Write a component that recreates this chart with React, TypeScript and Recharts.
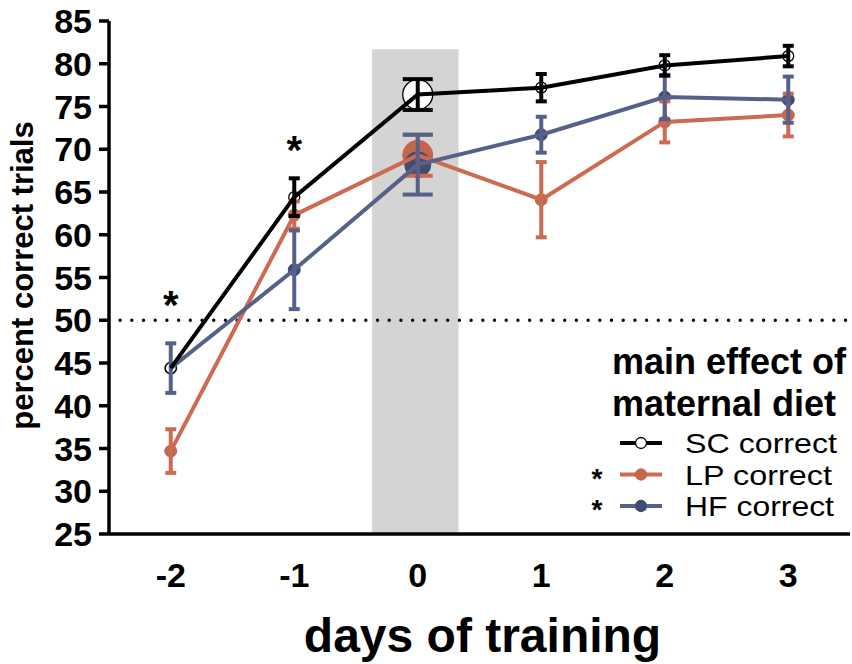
import {
  ComposedChart,
  Line,
  Scatter,
  XAxis,
  YAxis,
  ErrorBar,
  ReferenceArea,
  ReferenceLine,
  ReferenceDot,
  Legend,
} from 'recharts';

const FONT = '"Liberation Sans", Arial, Helvetica, sans-serif';

const days = [-2, -1, 0, 1, 2, 3];
const scMean = [44.4, 64.4, 76.4, 77.2, 79.8, 80.9];
const scErr = [0, 2.2, 1.8, 1.6, 1.2, 1.2];
const lpMean = [34.7, 62.3, 69.3, 64.1, 73.2, 74.0];
const lpErr = [2.55, 1.6, 2.4, 4.4, 2.4, 2.5];
const hfMean = [44.4, 55.9, 68.2, 71.7, 76.1, 75.8];
const hfErr = [2.9, 4.6, 3.5, 2.1, 2.6, 2.7];

const yTicks = [25, 30, 35, 40, 45, 50, 55, 60, 65, 70, 75, 80, 85];
const xTicks = [-2, -1, 0, 1, 2, 3];

// day 0 (shaded) gets big markers and wide caps
const SHADED_DAY = 0;
const stars = [
  { day: -2, y: 51.4 },
  { day: -1, y: 69.6 },
];

const SC = '#000000';
const LP_LINE = '#cc6b52';
const LP_DOT = '#c4654c';
const HF_LINE = '#56618a';
const HF_DOT = '#414c70';

// split errors so the shaded day can use wider caps
const narrow = (arr: number[]) => arr.map((v, i) => (days[i] === SHADED_DAY ? undefined : v));
const wide = (arr: number[]) => arr.map((v, i) => (days[i] === SHADED_DAY ? v : undefined));

const scN = narrow(scErr);
const scW = wide(scErr);
const lpN = narrow(lpErr);
const lpW = wide(lpErr);
const hfN = narrow(hfErr);
const hfW = wide(hfErr);

const data = days.map((day, i) => ({
  day,
  sc: scMean[i],
  scN: scN[i],
  scW: scW[i],
  lp: lpMean[i],
  lpN: lpN[i],
  lpW: lpW[i],
  hf: hfMean[i],
  hfN: hfN[i],
  hfW: hfW[i],
}));

function makeMarker(fill: string, stroke: string, strokeWidth: number, small: number, big: number) {
  return (props: any) => {
    const { cx, cy, payload } = props;
    if (cx == null || cy == null) return <g />;
    const r = payload.day === SHADED_DAY ? big : small;
    return <circle cx={cx} cy={cy} r={r} fill={fill} stroke={stroke} strokeWidth={strokeWidth} />;
  };
}

function YLabel(props: any) {
  const { viewBox } = props;
  const cy = viewBox.y + viewBox.height / 2 - 2;
  const x = 33;
  return (
    <text
      x={x}
      y={cy}
      transform={`rotate(-90, ${x}, ${cy})`}
      textAnchor="middle"
      fontFamily={FONT}
      fontWeight="bold"
      fontSize={31}
      fill="#000"
    >
      percent correct trials
    </text>
  );
}

function LegendBox() {
  const rows = [
    { label: 'SC correct', len: 152, line: SC, dot: '#fff', dotStroke: SC, star: false },
    { label: 'LP correct', len: 147, line: LP_LINE, dot: LP_DOT, dotStroke: LP_DOT, star: true },
    { label: 'HF correct', len: 149, line: HF_LINE, dot: HF_DOT, dotStroke: HF_DOT, star: true },
  ];
  const rowY = (i: number) => 113 + i * 31.5;
  return (
    <svg width={272} height={200} style={{ display: 'block', overflow: 'visible' }}>
      <text fontFamily={FONT} fontWeight="bold" fontSize={36} fill="#000">
        <tspan x={32} y={44}>main effect of</tspan>
        <tspan x={32} y={86}>maternal diet</tspan>
      </text>
      {rows.map((r, i) => {
        const cy = rowY(i);
        return (
          <g key={r.label}>
            <line x1={40} x2={82} y1={cy} y2={cy} stroke={r.line} strokeWidth={4} />
            <circle cx={61} cy={cy} r={5.5} fill={r.dot} stroke={r.dotStroke} strokeWidth={1.3} />
            {r.star && (
              <text x={17} y={cy + 13} textAnchor="middle" fontFamily={FONT} fontWeight="bold" fontSize={28} fill="#000">
                *
              </text>
            )}
            <text
              x={105}
              y={cy + 10}
              fontFamily={FONT}
              fontSize={28}
              fill="#000"
              textLength={r.len}
              lengthAdjust="spacingAndGlyphs"
            >
              {r.label}
            </text>
          </g>
        );
      })}
    </svg>
  );
}

const starLabel = (props: any) => {
  const { viewBox } = props;
  const x = viewBox.x + (viewBox.width || 0) / 2;
  const y = viewBox.y + (viewBox.height || 0) / 2;
  return (
    <text x={x} y={y + 11} textAnchor="middle" fontFamily={FONT} fontWeight="bold" fontSize={40} fill="#000">
      *
    </text>
  );
};

export default function App() {
  return (
    <div style={{ position: 'absolute', left: 0, top: 0, background: '#fff' }}>
      <ComposedChart width={852} height={664} data={data} margin={{ top: 21, right: 2, left: 0, bottom: 0 }}>
        <ReferenceArea x1={-0.37} x2={0.33} y1={25} y2={81.7} fill="#d4d4d4" fillOpacity={1} stroke="none" />
        <ReferenceLine
          segment={[
            { x: -2.41, y: 50 },
            { x: 3.5, y: 50 },
          ]}
          stroke="#000"
          strokeWidth={3.4}
          strokeDasharray="0 11.7"
          strokeLinecap="round"
        />
        <XAxis
          dataKey="day"
          type="number"
          domain={[-2.5, 3.5]}
          ticks={xTicks}
          tickLine={false}
          tickSize={6}
          tickMargin={23}
          height={130}
          axisLine={{ stroke: '#000', strokeWidth: 3.5 }}
          tick={{ fill: '#000', fontSize: 34, fontWeight: 'bold', fontFamily: FONT }}
          label={{
            value: 'days of training',
            position: 'insideBottom',
            offset: 12,
            dx: 3,
            fill: '#000',
            fontSize: 48,
            fontWeight: 'bold',
            fontFamily: FONT,
          }}
        />
        <YAxis
          type="number"
          domain={[25, 85]}
          ticks={yTicks}
          interval={0}
          width={109}
          tickSize={10}
          tickMargin={7}
          axisLine={{ stroke: '#000', strokeWidth: 3.5 }}
          tickLine={{ stroke: '#000', strokeWidth: 3.5 }}
          tick={{ fill: '#000', fontSize: 34, fontWeight: 'bold', fontFamily: FONT }}
          label={<YLabel />}
        />
        {/* markers underneath the lines */}
        <Scatter zIndex={300} dataKey="lp" isAnimationActive={false} shape={makeMarker(LP_DOT, LP_DOT, 1, 6, 15)} legendType="none" />
        <Scatter zIndex={301} dataKey="hf" isAnimationActive={false} shape={makeMarker(HF_DOT, HF_DOT, 1, 6, 13)} legendType="none" />
        <Scatter zIndex={302} dataKey="sc" isAnimationActive={false} shape={makeMarker('#fff', SC, 1.3, 5.5, 15)} legendType="none" />
        {/* lines and error bars on top */}
        <Line dataKey="lp" stroke={LP_LINE} strokeWidth={4} isAnimationActive={false} dot={false} activeDot={false}>
          <ErrorBar dataKey="lpN" width={5.5} stroke={LP_LINE} strokeWidth={4} direction="y" />
          <ErrorBar dataKey="lpW" width={15} stroke={LP_LINE} strokeWidth={4} direction="y" />
        </Line>
        <Line dataKey="hf" stroke={HF_LINE} strokeWidth={4} isAnimationActive={false} dot={false} activeDot={false}>
          <ErrorBar dataKey="hfN" width={5.5} stroke={HF_LINE} strokeWidth={4} direction="y" />
          <ErrorBar dataKey="hfW" width={15} stroke={HF_LINE} strokeWidth={4} direction="y" />
        </Line>
        <Line dataKey="sc" stroke={SC} strokeWidth={4} isAnimationActive={false} dot={false} activeDot={false}>
          <ErrorBar dataKey="scN" width={5.5} stroke={SC} strokeWidth={4} direction="y" />
          <ErrorBar dataKey="scW" width={15} stroke={SC} strokeWidth={4} direction="y" />
        </Line>
        {stars.map((s) => (
          <ReferenceDot key={s.day} x={s.day} y={s.y} r={0} fill="none" stroke="none" label={starLabel} />
        ))}
        <Legend
          layout="vertical"
          align="center"
          verticalAlign="middle"
          content={() => <LegendBox />}
          wrapperStyle={{ left: 580, top: 330, width: 272, height: 200 }}
        />
      </ComposedChart>
    </div>
  );
}
